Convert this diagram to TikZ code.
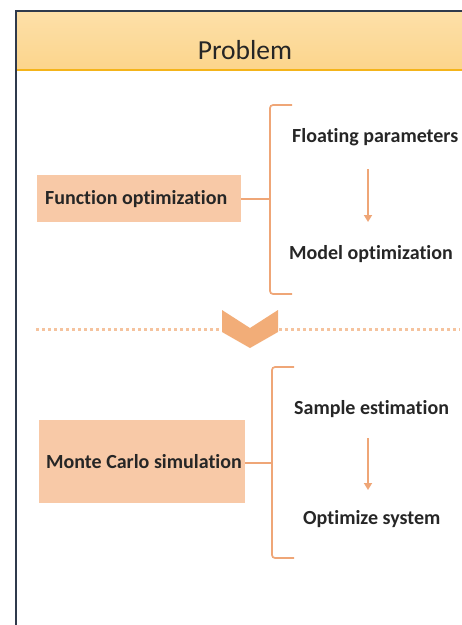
\documentclass[tikz,border=0pt]{standalone}
\usepackage{fontspec}
\setmainfont[Ligatures=NoCommon]{Carlito}
\usetikzlibrary{arrows.meta}
\definecolor{hdr}{HTML}{FCD58C}
\definecolor{hdrline}{HTML}{F4B41A}
\definecolor{frame}{HTML}{2F3A4C}
\definecolor{peach}{HTML}{F8C9A7}
\definecolor{org}{HTML}{EFA677}
\definecolor{dotc}{HTML}{F5C39E}
\definecolor{chev}{HTML}{F2AD78}
\tikzset{
  box/.style={fill=peach, draw=none},
  item/.style={anchor=base west, inner sep=0pt, font=\fontsize{20}{24}\selectfont\bfseries, text=black!85},
  brk/.style={draw=org, line width=1.7pt, rounded corners=3pt},
  flow/.style={draw=org, line width=1.8pt, -{Triangle[width=8pt,length=7pt]}},
  dots/.style={draw=dotc, line width=3pt, dash pattern=on 3pt off 3pt}
}
\begin{document}
\begin{tikzpicture}[x=1pt,y=-1pt]
\useasboundingbox (0,0) rectangle (462,625);
% header
\fill[top color=hdr!75!white, bottom color=hdr] (16,11) rectangle (462,70);
\draw[hdrline, line width=1.5pt] (16,70) -- (462,70);
\draw[frame, line width=2pt] (16,625) -- (16,11) -- (462,11);
\node[anchor=base, inner sep=0pt, font=\fontsize{27.5}{32}\selectfont, text=black!85] (prob) at (245,59) {Problem};
% upper section
\fill[box] (37,175) rectangle (241,222);
\coordinate (fbox) at (241,199);
\node[item] (fo) at (45,204) {Function optimization};
\coordinate (b1) at (270,199);
\draw[brk] (292,105) -- (270,105) -- (270,294) -- (292,294);
\draw[brk] (fbox) -- (b1);
\node[item] (fp) at (292,142) {Floating parameters};
\node[item] (mo) at (289,259) {Model optimization};
\coordinate (a1s) at (368,169);
\coordinate (a1e) at (368,222);
\draw[flow] (a1s) -- (a1e);
% divider
\coordinate (dl) at (36,329);
\coordinate (dm1) at (222,329);
\coordinate (dm2) at (279,329);
\coordinate (dr) at (460,329);
\draw[dots] (dl) -- (dm1);
\draw[dots] (dm2) -- (dr);
\fill[chev] (222,310) -- (250,328) -- (278,310) -- (278,332) -- (250,348) -- (222,332) -- cycle;
% lower section
\fill[box] (39,420) rectangle (245,503);
\coordinate (mbox) at (245,463);
\node[item] (mc) at (46,468) {Monte Carlo simulation};
\coordinate (b2) at (272,463);
\draw[brk] (294,367) -- (272,367) -- (272,558) -- (294,558);
\draw[brk] (mbox) -- (b2);
\node[item] (se) at (294,414) {Sample estimation};
\node[item] (os) at (303,524) {Optimize system};
\coordinate (a2s) at (368,438);
\coordinate (a2e) at (368,490);
\draw[flow] (a2s) -- (a2e);
\end{tikzpicture}
\end{document}
